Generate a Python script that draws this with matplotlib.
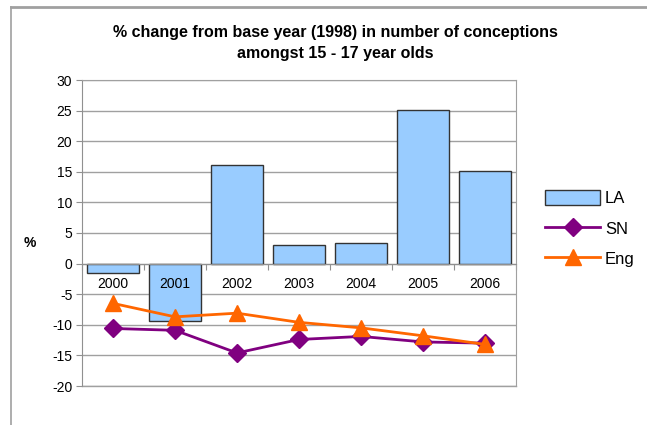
import matplotlib
matplotlib.use("Agg")
import matplotlib.pyplot as plt
from matplotlib.lines import Line2D
from matplotlib.ticker import FuncFormatter

years = ["2000", "2001", "2002", "2003", "2004", "2005", "2006"]
la = [-1.5, -9.3, 16.1, 3.1, 3.4, 25.1, 15.2]
sn = [-10.6, -10.9, -14.6, -12.4, -11.9, -12.8, -13.0]
eng = [-6.5, -8.7, -8.1, -9.6, -10.5, -11.8, -13.2]
yticks = [30, 25, 20, 15, 10, 5, 0, -5, -10, -15, -20]

plt.rcParams['font.family'] = ['Liberation Sans', 'DejaVu Sans']
plt.rcParams['axes.unicode_minus'] = False

fig = plt.figure(figsize=(6.47, 4.25), dpi=100)
W, H = 647, 425

# outer chart border
fig.add_artist(Line2D([11/W, 11/W], [0, 1 - 7/H], color='#a0a0a0', lw=1.2))
fig.add_artist(Line2D([11/W, 1], [1 - 7/H, 1 - 7/H], color='#a0a0a0', lw=2.0))

ax = fig.add_axes([82/W, 1 - 386/H, (516 - 82)/W, (386 - 80)/H])
x = list(range(len(years)))
ax.bar(x, la, width=0.83, color='#99CCFF', edgecolor='#333333', linewidth=1.0, zorder=2, label='LA')
ax.plot(x, sn, color='#800080', lw=2, marker='D', ms=9, zorder=4, label='SN')
ax.plot(x, eng, color='#FF6600', lw=2, marker='^', ms=12, zorder=5, label='Eng')

ax.set_xlim(-0.5, len(years) - 0.5)
ax.set_ylim(-20, 30)
ax.set_yticks(yticks)
ax.yaxis.set_major_formatter(FuncFormatter(lambda v, p: f"{int(v)}"))
ax.yaxis.grid(True, color='#a0a0a0', lw=1.0, zorder=0)
ax.set_axisbelow(True)
for s in ['top', 'right']:
    ax.spines[s].set_color('#a0a0a0')
ax.spines['left'].set_color('#909090')
ax.spines['bottom'].set_position(('data', 0))
ax.spines['bottom'].set_color('#909090')
ax.spines['bottom'].set_zorder(3)
ax.add_line(Line2D([0, 1], [0, 0], transform=ax.transAxes, color='#a0a0a0', lw=1.0, clip_on=False))

ax.set_xticks([i - 0.5 for i in range(len(years) + 1)])
ax.set_xticklabels([])
ax.tick_params(axis='x', length=4, color='#909090', direction='out')
for i, yr in enumerate(years):
    ax.annotate(yr, xy=(i, 0), xytext=(0, -14.5), textcoords='offset points',
                ha='center', va='center', fontsize=10, zorder=6)
ax.tick_params(axis='y', length=4, color='#909090', labelsize=10, pad=3)

fig.text(30/W, 1 - 243/H, '%', ha='center', va='center', fontsize=10, fontweight='bold')

fig.text(335/W, 1 - 43/H, '% change from base year (1998) in number of conceptions\namongst 15 - 17 year olds',
         ha='center', va='center', fontsize=11.5, fontweight='bold', linespacing=1.5)

handles, labels = ax.get_legend_handles_labels()
order = [labels.index(l) for l in ['LA', 'SN', 'Eng']]
leg = ax.legend([handles[i] for i in order], [labels[i] for i in order],
                loc='upper left', bbox_to_anchor=(530/W, 1 - 175/H), bbox_transform=fig.transFigure,
                frameon=False, fontsize=12, handlelength=3.3, handleheight=1.0, labelspacing=0.85,
                handletextpad=0.3)

fig.savefig('out.png', dpi=100)
